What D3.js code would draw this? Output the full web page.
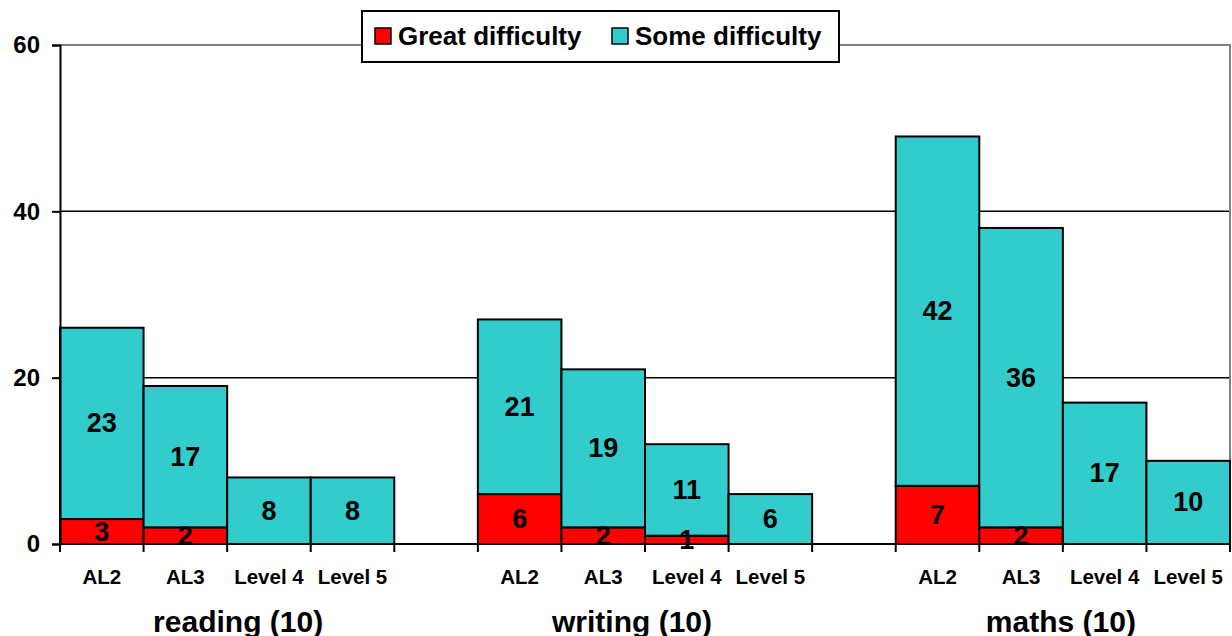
<!DOCTYPE html>
<html>
<head>
<meta charset="utf-8">
<script src="https://cdn.jsdelivr.net/npm/d3@7"></script>
<style>
  html, body { margin: 0; padding: 0; background: #fff; }
  svg { display: block; font-family: "Liberation Sans", Arial, sans-serif; font-weight: bold; }
</style>
</head>
<body>
<svg id="chart" width="1232" height="636"></svg>
<script>
const groups = ["reading (10)", "writing (10)", "maths (10)"];
const levels = ["AL2", "AL3", "Level 4", "Level 5"];
const seriesNames = ["Great difficulty", "Some difficulty"];
const greatDifficulty = [
  [3, 2, 0, 0],
  [6, 2, 1, 0],
  [7, 2, 0, 0]
];
const someDifficulty = [
  [23, 17, 8, 8],
  [21, 19, 11, 6],
  [42, 36, 17, 10]
];
const yTicks = [0, 20, 40, 60];
const colors = ["#FF0000", "#33CCCC"];

(function () {
const svg = d3.select("#chart");
const mLeft = 60, mRight = 1230, mTop = 45, mBottom = 544;
const groupLabelShift = [11, -13, -2];

// slots: 4 bars per group with one empty slot between groups
const slots = [];
groups.forEach((g, gi) => {
  levels.forEach((l, li) => slots.push({key: g + "|" + l, group: gi, level: li}));
  if (gi < groups.length - 1) slots.push({key: "gap" + gi, gap: true});
});

const x = d3.scaleBand().domain(slots.map(s => s.key)).range([mLeft, mRight]).padding(0);
const y = d3.scaleLinear().domain([0, 60]).range([mBottom, mTop]);

// gridlines
svg.append("g").selectAll("line").data(yTicks.filter(t => t > 0 && t < 60)).join("line")
  .attr("x1", mLeft).attr("x2", mRight)
  .attr("y1", d => y(d)).attr("y2", d => y(d))
  .attr("stroke", "#000").attr("stroke-width", 1.5);

// plot border top/right (gray)
svg.append("path")
  .attr("d", `M${mLeft},${y(60)}H${mRight}V${mBottom}`)
  .attr("fill", "none").attr("stroke", "#808080").attr("stroke-width", 2);

// bars
const barData = [];
slots.filter(s => !s.gap).forEach(s => {
  const gv = greatDifficulty[s.group][s.level];
  const sv = someDifficulty[s.group][s.level];
  barData.push({key: s.key, y0: 0, y1: gv, v: gv, c: 0});
  barData.push({key: s.key, y0: gv, y1: gv + sv, v: sv, c: 1});
});
const bars = barData.filter(d => d.v > 0);
svg.append("g").selectAll("rect").data(bars).join("rect")
  .attr("x", d => x(d.key))
  .attr("width", x.bandwidth())
  .attr("y", d => y(d.y1))
  .attr("height", d => y(d.y0) - y(d.y1))
  .attr("fill", d => colors[d.c])
  .attr("stroke", "#000").attr("stroke-width", 2);

// y axis
const yAxis = d3.axisLeft(y).tickValues(yTicks).tickSize(8).tickPadding(12);
const ya = svg.append("g").attr("transform", `translate(${mLeft},0)`).call(yAxis);
ya.select(".domain").attr("stroke", "#000").attr("stroke-width", 2);
ya.selectAll(".tick line").attr("stroke", "#000").attr("stroke-width", 2);
ya.selectAll(".tick text").attr("font-size", 24).attr("font-family", "Liberation Sans, Arial, sans-serif")
  .attr("font-weight", "bold").attr("fill", "#000");

// x axis line and ticks at slot boundaries
const boundaries = slots.map(s => x(s.key)).concat([mRight]);
svg.append("line").attr("x1", mLeft).attr("x2", mRight).attr("y1", mBottom).attr("y2", mBottom)
  .attr("stroke", "#000").attr("stroke-width", 2);
svg.append("g").selectAll("line").data(boundaries).join("line")
  .attr("x1", d => d).attr("x2", d => d)
  .attr("y1", mBottom).attr("y2", mBottom + 8)
  .attr("stroke", "#000").attr("stroke-width", 2);

// value labels
svg.append("g").selectAll("text").data(bars).join("text")
  .attr("x", d => x(d.key) + x.bandwidth() / 2)
  .attr("y", d => (y(d.y0) + y(d.y1)) / 2)
  .attr("text-anchor", "middle")
  .attr("dominant-baseline", "central")
  .attr("font-size", 27)
  .attr("fill", "#000")
  .text(d => d.v);

// level labels
svg.append("g").selectAll("text").data(slots.filter(s => !s.gap)).join("text")
  .attr("x", d => x(d.key) + x.bandwidth() / 2)
  .attr("y", 576)
  .attr("text-anchor", "middle")
  .attr("dominant-baseline", "central")
  .attr("font-size", 20.5)
  .text(d => levels[d.level]);

// group labels
svg.append("g").selectAll("text").data(groups).join("text")
  .attr("x", (d, i) => {
    const a = x(d + "|" + levels[0]);
    const b = x(d + "|" + levels[levels.length - 1]) + x.bandwidth();
    return (a + b) / 2 + groupLabelShift[i];
  })
  .attr("y", 621)
  .attr("text-anchor", "middle")
  .attr("dominant-baseline", "central")
  .attr("font-size", 30)
  .text(d => d);

// legend
const lg = svg.append("g");
lg.append("rect").attr("x", 362).attr("y", 11).attr("width", 477).attr("height", 51)
  .attr("fill", "#fff").attr("stroke", "#000").attr("stroke-width", 2);
const legendItems = [{x: 375, c: 0}, {x: 612, c: 1}];
legendItems.forEach(it => {
  lg.append("rect").attr("x", it.x).attr("y", 28).attr("width", 16).attr("height", 16)
    .attr("fill", colors[it.c]).attr("stroke", "#000").attr("stroke-width", 1.5);
  lg.append("text").attr("x", it.x + 23).attr("y", 36).attr("dominant-baseline", "central")
    .attr("font-size", 26).text(seriesNames[it.c]);
});
})();
</script>
</body>
</html>
